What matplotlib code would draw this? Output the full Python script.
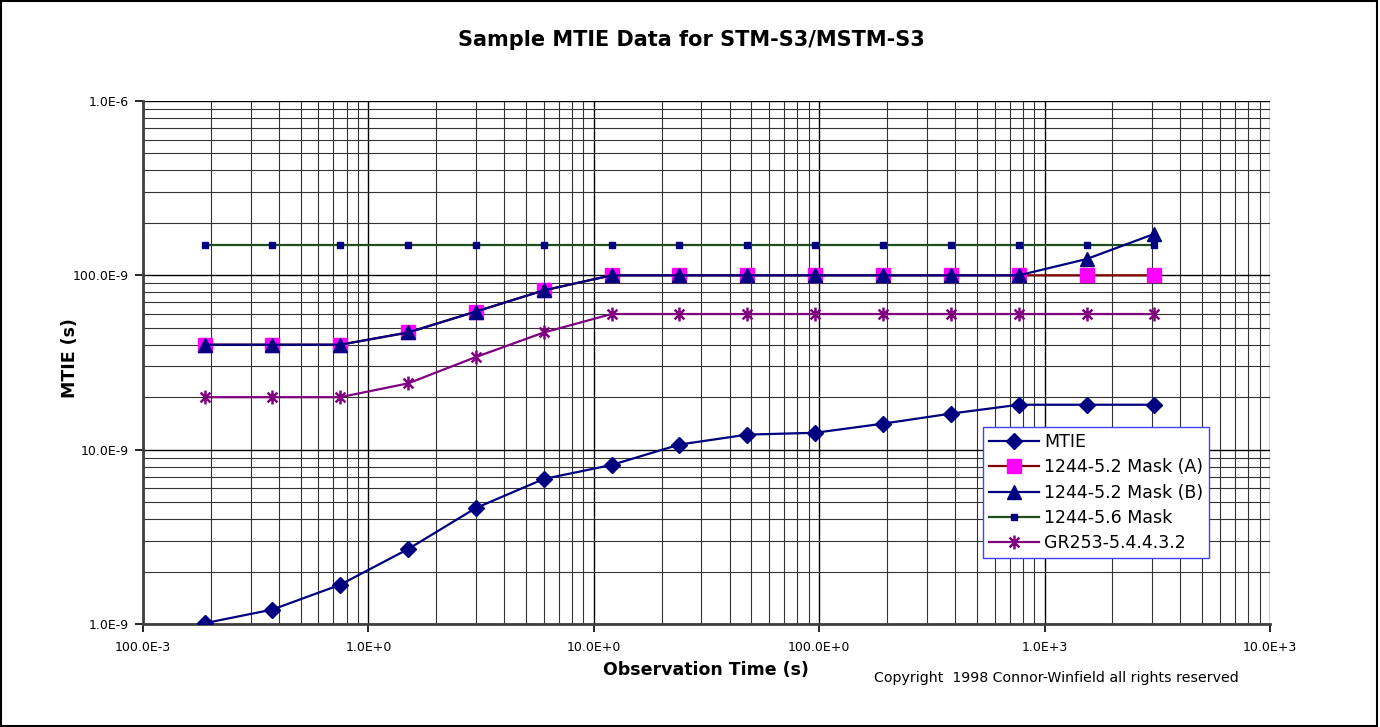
import matplotlib
matplotlib.use("Agg")
import matplotlib.pyplot as plt
from matplotlib.path import Path
from matplotlib.ticker import LogLocator, FixedLocator, FixedFormatter, NullFormatter
import numpy as np

plt.rcParams['font.family'] = ['DejaVu Sans']

tau = [0.1875, 0.375, 0.75, 1.5, 3, 6, 12, 24, 48, 96, 192, 384, 768, 1536, 3072]
mtie = [1.01e-9, 1.21e-9, 1.68e-9, 2.69e-9, 4.63e-9, 6.79e-9, 8.17e-9, 10.7e-9,
        12.2e-9, 12.5e-9, 14.1e-9, 16.1e-9, 18.1e-9, 18.1e-9, 18.1e-9]
mask_a = [40e-9, 40e-9, 40e-9, 47e-9, 62e-9, 82e-9, 100e-9, 100e-9, 100e-9,
          100e-9, 100e-9, 100e-9, 100e-9, 100e-9, 100e-9]
mask_b = [40e-9, 40e-9, 40e-9, 47e-9, 62e-9, 82e-9, 100e-9, 100e-9, 100e-9,
          100e-9, 100e-9, 100e-9, 100e-9, 124e-9, 173e-9]
mask_56 = [150e-9] * 15
gr253 = [20e-9, 20e-9, 20e-9, 24e-9, 34e-9, 47e-9, 60e-9, 60e-9, 60e-9,
         60e-9, 60e-9, 60e-9, 60e-9, 60e-9, 60e-9]

x_ticks = [0.1, 1, 10, 100, 1000, 10000]
x_labels = ['100.0E-3', '1.0E+0', '10.0E+0', '100.0E+0', '1.0E+3', '10.0E+3']
y_ticks = [1e-9, 1e-8, 1e-7, 1e-6]
y_labels = ['1.0E-9', '10.0E-9', '100.0E-9', '1.0E-6']

title = 'Sample MTIE Data for STM-S3/MSTM-S3'
xlabel = 'Observation Time (s)'
ylabel = 'MTIE (s)'
copyright_text = 'Copyright  1998 Connor-Winfield all rights reserved'

# asterisk marker: vertical line plus X
d = 0.7071
star = Path([(0, -1), (0, 1), (-d, -d), (d, d), (-d, d), (d, -d)],
            [Path.MOVETO, Path.LINETO, Path.MOVETO, Path.LINETO, Path.MOVETO, Path.LINETO])

W, H = 1380, 727
fig = plt.figure(figsize=(W / 100, H / 100), dpi=100)
ax = fig.add_axes([143 / W, 1 - 624 / H, (1270 - 143) / W, (624 - 101) / H])

ax.plot(tau, mtie, color='#000080', lw=1.6, marker='D', ms=8, mfc='#000080',
        mec='#000080', label='MTIE', zorder=5)
ax.plot(tau, mask_a, color='#800000', lw=1.6, marker='s', ms=9.5, mfc='#FF00FF',
        mec='#FF00FF', label='1244-5.2 Mask (A)', zorder=5)
ax.plot(tau, mask_b, color='#000080', lw=1.6, marker='^', ms=10, mfc='#000080',
        mec='#000080', label='1244-5.2 Mask (B)', zorder=6)
ax.plot(tau, mask_56, color='#1E4D1E', lw=1.6, marker='s', ms=3.8, mfc='#000080',
        mec='#000080', label='1244-5.6 Mask', zorder=5)
ax.plot(tau, gr253, color='#800080', lw=1.6, marker=star, ms=10, mfc='none',
        mec='#800080', mew=1.8, label='GR253-5.4.4.3.2', zorder=5)

ax.set_xscale('log')
ax.set_yscale('log')
ax.set_xlim(0.1, 10000)
ax.set_ylim(1e-9, 1e-6)

ax.xaxis.set_major_locator(FixedLocator(x_ticks))
ax.xaxis.set_major_formatter(FixedFormatter(x_labels))
ax.yaxis.set_major_locator(FixedLocator(y_ticks))
ax.yaxis.set_major_formatter(FixedFormatter(y_labels))
ax.xaxis.set_minor_locator(LogLocator(base=10, subs=np.arange(2, 10), numticks=20))
ax.yaxis.set_minor_locator(LogLocator(base=10, subs=np.arange(2, 10), numticks=20))
ax.xaxis.set_minor_formatter(NullFormatter())
ax.yaxis.set_minor_formatter(NullFormatter())

ax.grid(True, which='major', color='black', lw=1.0)
ax.grid(True, which='minor', color='#333333', lw=0.8)
ax.set_axisbelow(True)

ax.tick_params(which='major', direction='out', length=6, width=1.2, labelsize=9,
               colors='black')
ax.tick_params(axis='x', which='major', pad=6)
ax.tick_params(axis='y', which='major', pad=4)
ax.tick_params(which='minor', length=0)

for s in ['top', 'right']:
    ax.spines[s].set_visible(False)
for s in ['left', 'bottom']:
    ax.spines[s].set_linewidth(2.0)
    ax.spines[s].set_color('#404040')

fig.text(691 / W, 1 - 40 / H, title, ha='center', va='center', fontsize=15,
         fontweight='bold')
fig.text(706 / W, 1 - 670 / H, xlabel, ha='center', va='center', fontsize=12.5,
         fontweight='bold')
fig.text(70 / W, 1 - 358 / H, ylabel, ha='center', va='center', fontsize=12.5,
         fontweight='bold', rotation=90)
fig.text(1056 / W, 1 - 678 / H, copyright_text, ha='center', va='center', fontsize=10.2)

leg = ax.legend(loc='upper left', bbox_to_anchor=((983 - 143) / (1270 - 143), (624 - 427) / (624 - 101)),
                frameon=True, fancybox=False, fontsize=12.5, handlelength=2.9,
                borderpad=0.35, labelspacing=0.42, handletextpad=0.25, borderaxespad=0)
leg.get_frame().set_edgecolor('#4040FF')
leg.get_frame().set_linewidth(1.0)
leg.get_frame().set_alpha(1)
leg.set_zorder(10)

# outer border of the figure
fig.patches.append(plt.Rectangle((0.001, 0.001), 0.997, 0.997, transform=fig.transFigure,
                                 fill=False, edgecolor='black', lw=1.5))

fig.savefig('out.png', dpi=100)
